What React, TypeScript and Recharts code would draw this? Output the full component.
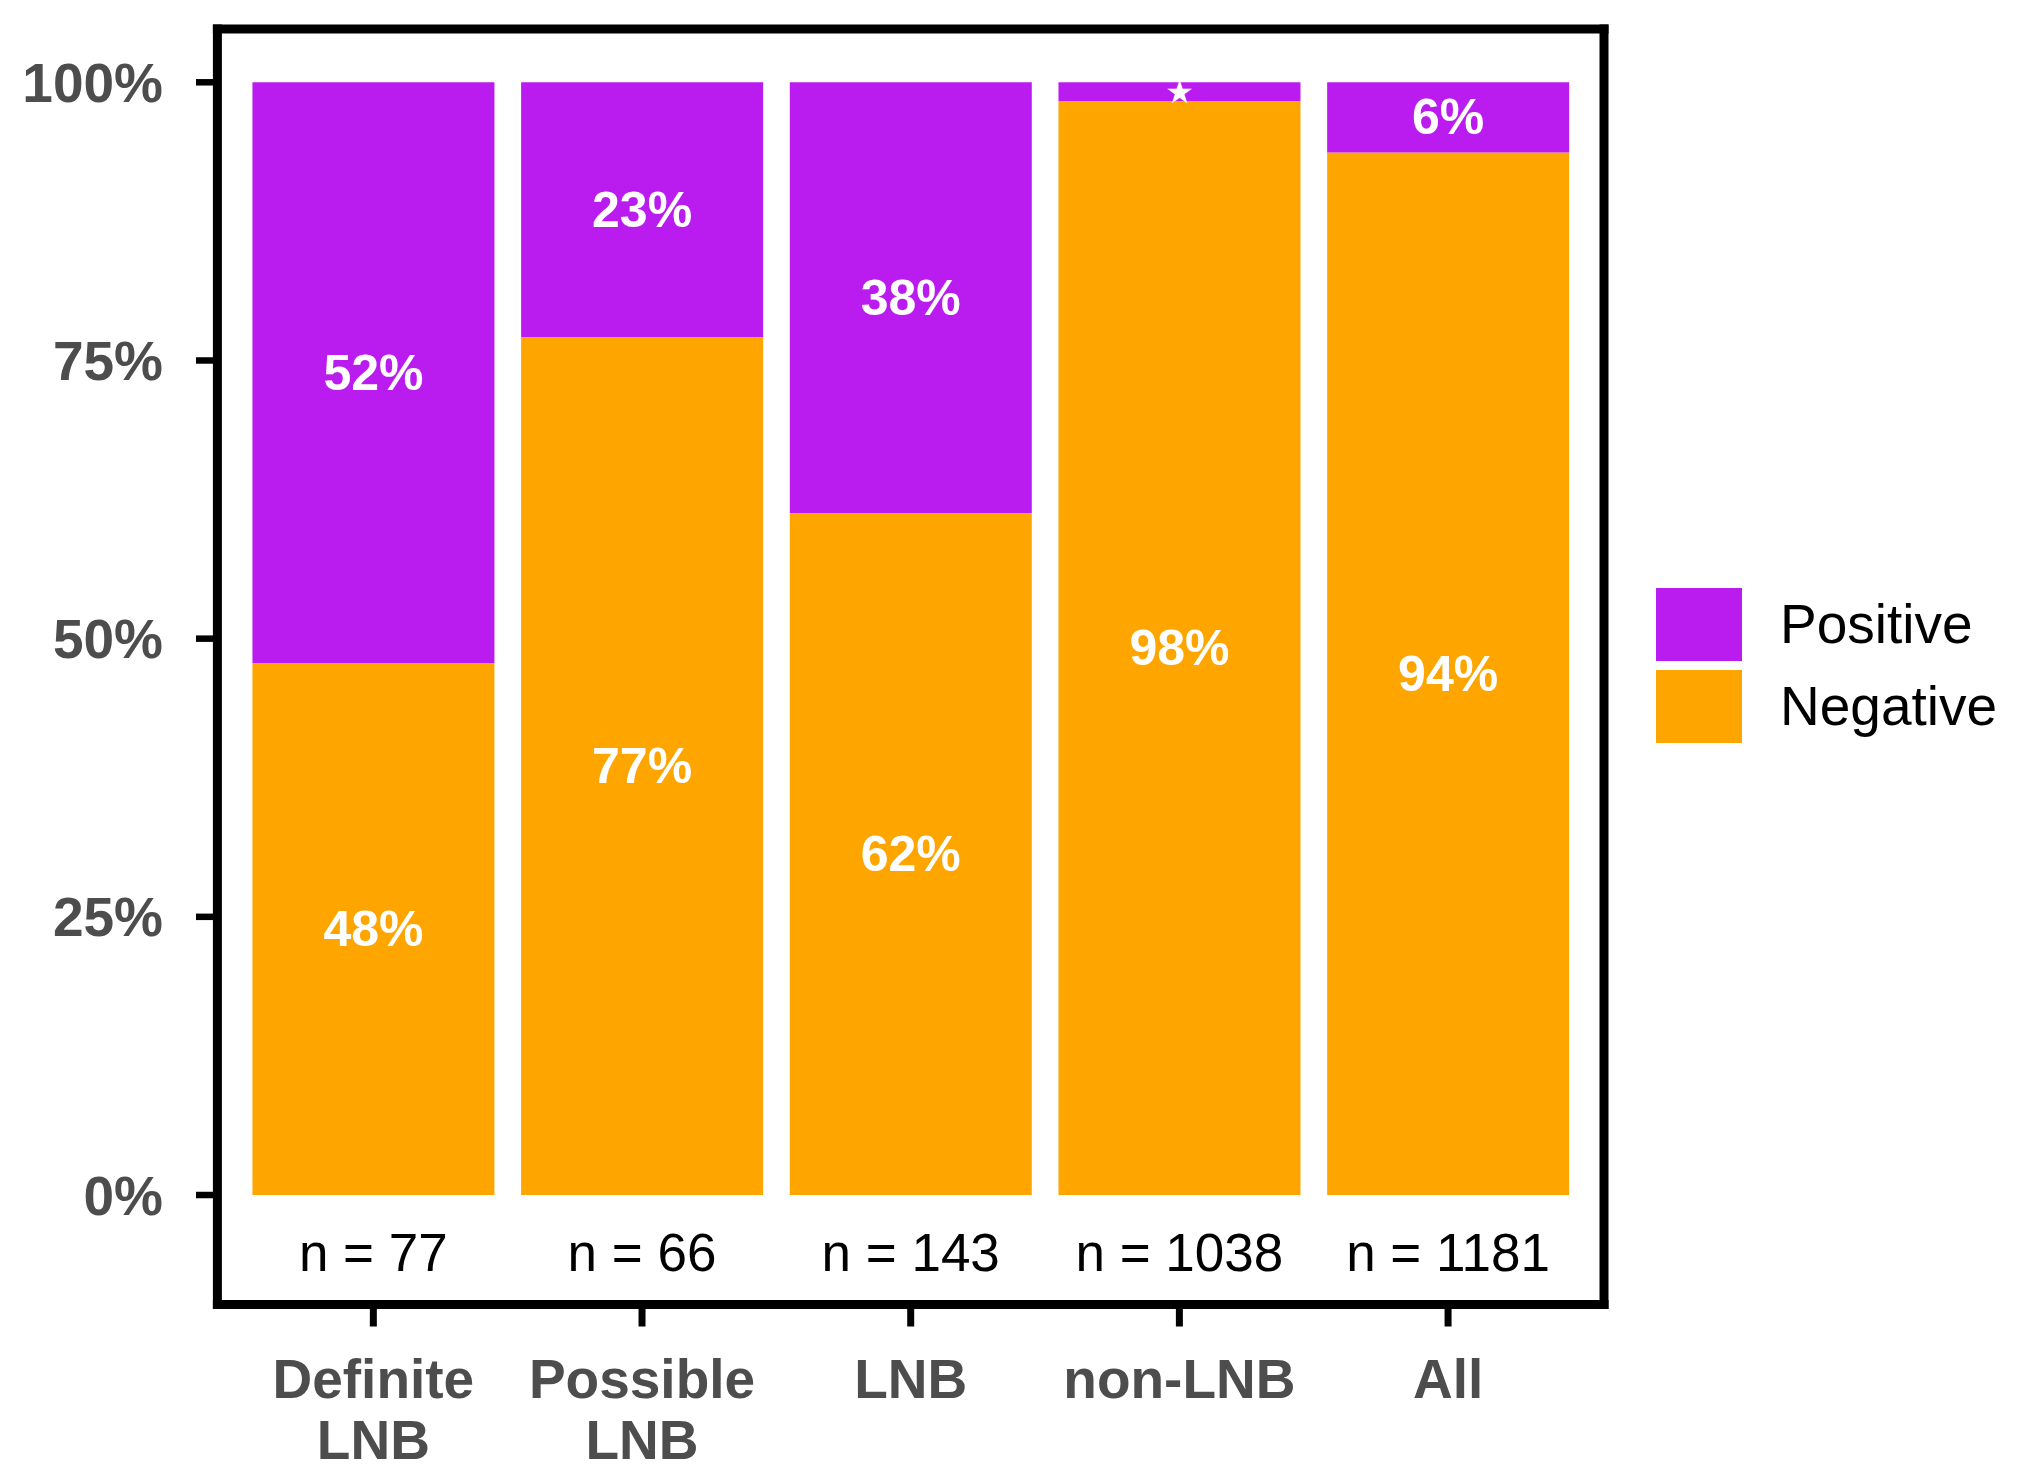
import React from 'react';
import { BarChart, Bar, XAxis, YAxis, LabelList, Legend } from 'recharts';

const categories = ['Definite LNB', 'Possible LNB', 'LNB', 'non-LNB', 'All'];
const negativeValues = [47.8, 77.1, 61.3, 98.3, 93.7];
const positiveValues = [52.2, 22.9, 38.7, 1.7, 6.3];
const negativeLabels = ['48%', '77%', '62%', '98%', '94%'];
const positiveLabels = ['52%', '23%', '38%', '★', '6%'];
const nCounts = [77, 66, 143, 1038, 1181];
const yTicks = [0, 25, 50, 75, 100];

const FONT = '"Liberation Sans", Arial, Helvetica, sans-serif';
const PURPLE = '#BA1CF0';
const ORANGE = '#FFA500';
const GRAY = '#4D4D4D';

const data = categories.map((name, i) => ({
  name,
  Negative: negativeValues[i],
  Positive: positiveValues[i],
  negLabel: negativeLabels[i],
  posLabel: positiveLabels[i],
  n: nCounts[i],
}));

const XTick = (props: any) => {
  const { x, y, payload } = props;
  const i = categories.indexOf(payload.value);
  const lines = String(payload.value).split(' ');
  return (
    <g>
      <text x={x} y={y - 56} textAnchor="middle" fill="#000" fontSize={53} fontFamily={FONT}>
        {`n = ${nCounts[i]}`}
      </text>
      <text x={x} y={y + 71} textAnchor="middle" fill={GRAY} fontSize={55} fontWeight="bold" fontFamily={FONT}>
        {lines.map((l, k) => (
          <tspan key={k} x={x} dy={k === 0 ? 0 : 61}>
            {l}
          </tspan>
        ))}
      </text>
    </g>
  );
};

const BarLabel = (props: any) => {
  const { x, y, width, height, value } = props;
  const isStar = value === '★';
  return (
    <text
      x={x + width / 2}
      y={y + height / 2}
      textAnchor="middle"
      dominantBaseline="central"
      fill="#fff"
      fontSize={isStar ? 32 : 50}
      fontWeight="bold"
      fontFamily={isStar ? '"DejaVu Sans", sans-serif' : FONT}
    >
      {value}
    </text>
  );
};

const LegendContent = (props: any) => {
  const items = (props.payload || []).slice().reverse();
  return (
    <div style={{ width: 380, fontFamily: FONT }}>
      {items.map((it: any, k: number) => (
        <div key={k} style={{ display: 'flex', alignItems: 'center', height: 73, marginBottom: 9 }}>
          <div style={{ width: 86, height: 73, background: it.color }} />
          <span style={{ marginLeft: 38, fontSize: 55, color: '#000', lineHeight: '73px' }}>{it.value}</span>
        </div>
      ))}
    </div>
  );
};

const borderLine = { stroke: '#000', strokeWidth: 9, strokeLinecap: 'square' as const };

export default function App() {
  return (
    <div style={{ width: 2009, height: 1464, background: '#fff' }}>
      <BarChart
        width={2009}
        height={1464}
        data={data}
        margin={{ top: 20, right: 412, bottom: 0, left: 0 }}
        barCategoryGap="5%"
      >
        <XAxis
          dataKey="name"
          height={167.5}
          padding={{ left: 21.6, right: 21.6 }}
          axisLine={borderLine}
          tickLine={{ stroke: '#000', strokeWidth: 7 }}
          tickSize={22}
          tickMargin={0}
          tick={<XTick />}
          interval={0}
        />
        <XAxis
          xAxisId="top"
          dataKey="name"
          orientation="top"
          height={1}
          padding={{ left: 21.6, right: 21.6 }}
          axisLine={borderLine}
          tick={false}
          tickLine={false}
        />
        <YAxis
          type="number"
          width={209.4}
          domain={[-9.84, 104.79]}
          allowDataOverflow
          ticks={yTicks}
          tickFormatter={(v: number) => `${v}%`}
          axisLine={borderLine}
          tickLine={{ stroke: '#000', strokeWidth: 6.5 }}
          tickSize={21.4}
          tickMargin={33}
          tick={{ fill: GRAY, fontSize: 55, fontWeight: 'bold', fontFamily: FONT }}
        />
        <YAxis
          yAxisId="right"
          orientation="right"
          width={1}
          domain={[0, 1]}
          axisLine={borderLine}
          tick={false}
          tickLine={false}
        />
        <Legend
          layout="horizontal"
          verticalAlign="top"
          content={<LegendContent />}
          wrapperStyle={{ position: 'absolute', left: 1648, top: 580, width: 0, height: 0, overflow: 'visible' }}
        />
        <Bar dataKey="Negative" stackId="a" fill={ORANGE} isAnimationActive={false}>
          <LabelList dataKey="negLabel" content={<BarLabel />} />
        </Bar>
        <Bar dataKey="Positive" stackId="a" fill={PURPLE} isAnimationActive={false}>
          <LabelList dataKey="posLabel" content={<BarLabel />} />
        </Bar>
      </BarChart>
    </div>
  );
}
